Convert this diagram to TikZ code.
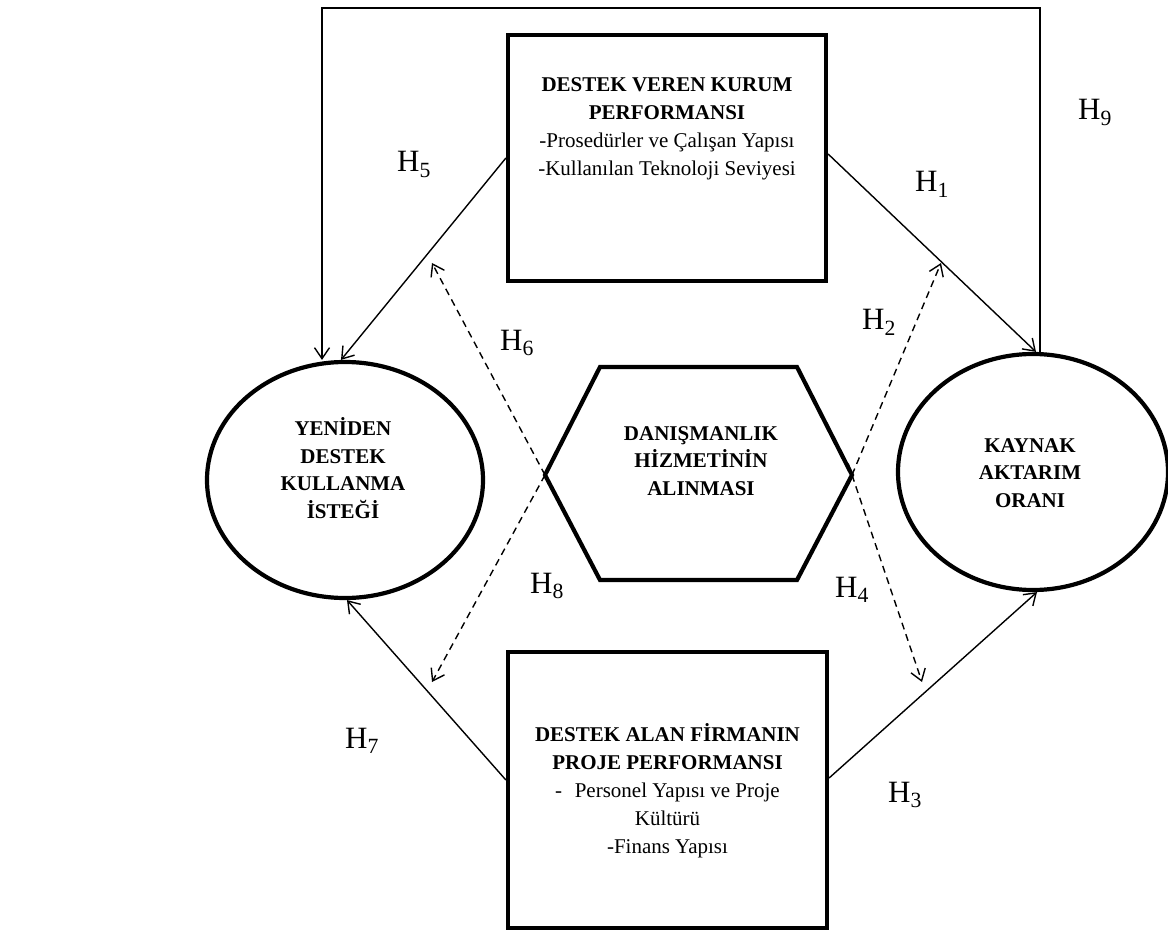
\documentclass[tikz,border=0pt]{standalone}
\usepackage{fontspec}
\setmainfont{Liberation Serif}
\usetikzlibrary{arrows.meta,shapes.geometric,calc}

\begin{document}
\begin{tikzpicture}[x=1pt,y=-1pt,
  thick border/.style={draw=black,line width=4.2pt},
  boxtext/.style={align=center,inner sep=0pt,font=\fontsize{21}{28}\selectfont},
  boldtext/.style={boxtext,font=\fontsize{21}{27.5}\selectfont\bfseries},
  link/.style={line width=1.4pt,-{Straight Barb[length=11pt,width=15pt,line width=1.4pt]}},
  dlink/.style={link,dash pattern=on 7pt off 5pt},
  hyp/.style={anchor=base west,inner sep=0pt,font=\fontsize{31}{31}\selectfont}]

\useasboundingbox (0,0) rectangle (1168,936);

% --- supporting institution (top box)
\node[thick border,fill=white,minimum width=318pt,minimum height=246pt,inner sep=0pt] (T) at (667,158) {};
\node[boxtext] (Ttext) at (667,129)
  {\textbf{DESTEK VEREN KURUM}\\\textbf{PERFORMANSI}\\-Prosedürler ve Çalışan Yapısı\\-Kullanılan Teknoloji Seviyesi};

% --- supported firm (bottom box)
\node[thick border,fill=white,minimum width=319pt,minimum height=276pt,inner sep=0pt] (B) at (667.5,790) {};
\node[boxtext] (Btext) at (667.5,791)
  {\textbf{DESTEK ALAN FİRMANIN}\\\textbf{PROJE PERFORMANSI}\\-\hspace{0.6em}Personel Yapısı ve Proje\\Kültürü\\-Finans Yapısı};

% --- consultancy (hexagon)
\coordinate (hexL) at (545,475);
\coordinate (hexR) at (852,475);
\draw[thick border,line join=miter] (600,367) -- (797,367) -- (hexR) -- (797,580) -- (600,580) -- (hexL) -- cycle;
\node[boldtext] (Hx) at (701,461) {DANIŞMANLIK\\HİZMETİNİN\\ALINMASI};

% --- outcome ellipses
\node[thick border,fill=white,ellipse,minimum width=276pt,minimum height=236pt,inner sep=0pt] (L) at (345,480) {};
\node[boldtext] (Ltext) at (343,468) {YENİDEN\\DESTEK\\KULLANMA\\İSTEĞİ};
\node[thick border,fill=white,ellipse,minimum width=270pt,minimum height=236pt,inner sep=0pt] (R) at (1033,472) {};
\node[boldtext] (Rtext) at (1030,473) {KAYNAK\\AKTARIM\\ORANI};

% --- solid hypotheses
\coordinate (loopL) at (322,8);
\draw[link] ([xshift=7pt]R.north) |- (loopL) -- (loopL |- L.north);   % H9
\draw[link] (T.west) -- ([xshift=-4pt]L.north);                       % H5
\draw[link] ([yshift=4pt]T.east) -- ([xshift=3pt]R.north);             % H1
\draw[link] ([yshift=10pt]B.west) -- ([xshift=2pt]L.south);            % H7
\draw[link] ([yshift=12pt]B.east) -- ([xshift=4pt]R.south);            % H3

% --- dashed (moderating) hypotheses
\coordinate (h6) at (432,263);
\coordinate (h8) at (432,682);
\coordinate (h2) at (941,263);
\coordinate (h4) at (922,682);
\draw[dlink] ($(hexL)!-12pt!(h6)$) -- (h6);
\draw[dlink] ($(hexL)!-12pt!(h8)$) -- (h8);
\draw[dlink] ($(hexR)!-12pt!(h2)$) -- (h2);
\draw[dlink] ($(hexR)!-12pt!(h4)$) -- (h4);

% --- hypothesis labels
\node[hyp] (lab1) at (915,192) {H\textsubscript{1}};
\node[hyp] (lab2) at (862,330) {H\textsubscript{2}};
\node[hyp] (lab3) at (888,802) {H\textsubscript{3}};
\node[hyp] (lab4) at (835,597) {H\textsubscript{4}};
\node[hyp] (lab5) at (397,172) {H\textsubscript{5}};
\node[hyp] (lab6) at (500,350) {H\textsubscript{6}};
\node[hyp] (lab7) at (345,748) {H\textsubscript{7}};
\node[hyp] (lab8) at (530,593) {H\textsubscript{8}};
\node[hyp] (lab9) at (1078,120) {H\textsubscript{9}};
\end{tikzpicture}
\end{document}
